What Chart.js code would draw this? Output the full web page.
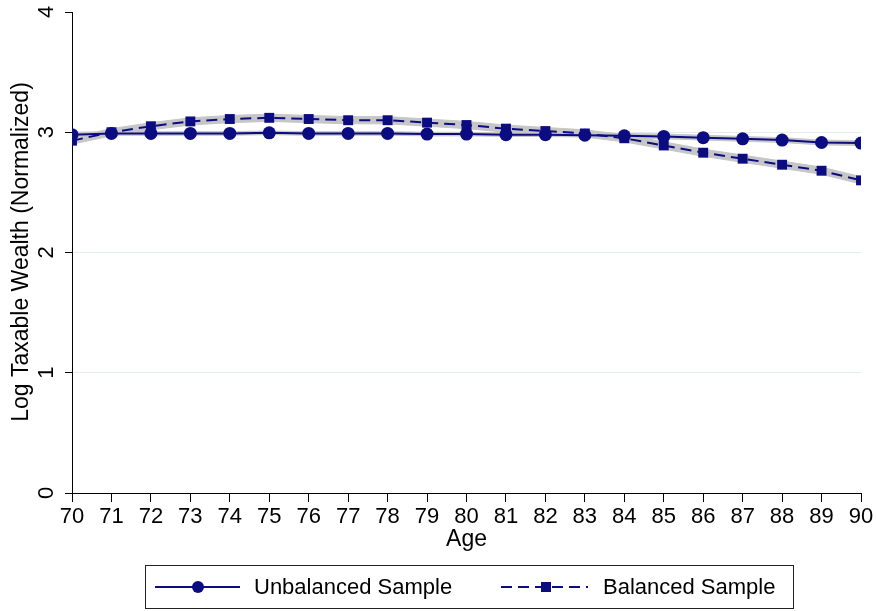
<!DOCTYPE html>
<html>
<head>
<meta charset="utf-8">
<script src="https://cdn.jsdelivr.net/npm/chart.js@4.4.0/dist/chart.umd.min.js"></script>
<style>
html, body { margin: 0; padding: 0; background: #fff; }
#wrap { width: 876px; height: 611px; position: relative; }
</style>
</head>
<body>
<div id="wrap"><canvas id="wealth_chart"></canvas></div>
<script>
var ages = [70, 71, 72, 73, 74, 75, 76, 77, 78, 79, 80, 81, 82, 83, 84, 85, 86, 87, 88, 89, 90];
var unbalanced   = [2.98, 2.99, 2.99, 2.99, 2.99, 2.995, 2.99, 2.99, 2.99, 2.985, 2.985, 2.98, 2.98, 2.975, 2.97, 2.965, 2.955, 2.945, 2.935, 2.915, 2.91];
var unbalancedHi = [3.00, 3.005, 3.005, 3.005, 3.005, 3.01, 3.005, 3.005, 3.005, 3.00, 3.00, 2.995, 2.995, 2.99, 2.99, 2.985, 2.975, 2.965, 2.955, 2.935, 2.93];
var unbalancedLo = [2.96, 2.975, 2.975, 2.975, 2.975, 2.98, 2.975, 2.975, 2.975, 2.97, 2.97, 2.965, 2.965, 2.96, 2.95, 2.945, 2.935, 2.925, 2.915, 2.895, 2.89];
var balanced   = [2.93, 3.00, 3.05, 3.09, 3.11, 3.12, 3.11, 3.10, 3.10, 3.08, 3.06, 3.03, 3.01, 2.99, 2.95, 2.89, 2.83, 2.78, 2.73, 2.68, 2.60];
var balancedHi = [2.96, 3.03, 3.08, 3.12, 3.14, 3.15, 3.14, 3.13, 3.13, 3.11, 3.09, 3.06, 3.04, 3.02, 2.98, 2.92, 2.86, 2.81, 2.76, 2.71, 2.63];
var balancedLo = [2.90, 2.97, 3.02, 3.06, 3.08, 3.09, 3.08, 3.07, 3.07, 3.05, 3.03, 3.00, 2.98, 2.96, 2.92, 2.86, 2.80, 2.75, 2.70, 2.65, 2.57];
var yTicks = [0, 1, 2, 3, 4];
var seriesNames = ["Unbalanced Sample", "Balanced Sample"];
var yTitle = "Log Taxable Wealth (Normalized)";

var navy = "#0c0c82";
var band = "#c6c6c6";
var FONT = "'Liberation Sans', Arial, Helvetica, sans-serif";

function pts(vals) {
  return ages.map(function (a, i) { return { x: a, y: vals[i] }; });
}

// stata style: y labels and y title turned on their side
var yLabels = {
  id: 'yLabels',
  afterDraw: function (chart) {
    var ctx = chart.ctx, sc = chart.scales.y;
    ctx.save();
    ctx.fillStyle = "#000";
    ctx.textAlign = "center";
    ctx.textBaseline = "middle";
    ctx.font = "22px " + FONT;
    yTicks.forEach(function (t) {
      ctx.save();
      ctx.translate(47, sc.getPixelForValue(t));
      ctx.rotate(-Math.PI / 2);
      ctx.fillText(String(t), 0, 0);
      ctx.restore();
    });
    ctx.font = "23px " + FONT;
    ctx.translate(22, 252);
    ctx.rotate(-Math.PI / 2);
    ctx.fillText(yTitle, 0, 0);
    ctx.restore();
  }
};

var legendBox = {
  id: 'legendBox',
  afterDraw: function (chart) {
    var ctx = chart.ctx;
    var cy = 587;
    ctx.save();
    ctx.strokeStyle = "#222";
    ctx.lineWidth = 1;
    ctx.strokeRect(145.5, 565.5, 648, 43);

    ctx.strokeStyle = navy;
    ctx.fillStyle = navy;
    ctx.lineWidth = 2;
    ctx.beginPath(); ctx.moveTo(155, cy); ctx.lineTo(240, cy); ctx.stroke();
    ctx.beginPath(); ctx.arc(198, cy, 6, 0, 2 * Math.PI); ctx.fill();

    ctx.setLineDash([11, 6]);
    ctx.beginPath(); ctx.moveTo(501, cy); ctx.lineTo(588, cy); ctx.stroke();
    ctx.setLineDash([]);
    ctx.fillRect(541, cy - 5, 10, 10);

    ctx.fillStyle = "#000";
    ctx.font = "22px " + FONT;
    ctx.textBaseline = "middle";
    ctx.textAlign = "left";
    ctx.fillText(seriesNames[0], 254, cy + 1);
    ctx.fillText(seriesNames[1], 603, cy + 1);
    ctx.restore();
  }
};

function create_Chart() {
  new Chart(document.getElementById("wealth_chart"), {
    type: 'line',
    data: {
      datasets: [
        { label: 'ub_hi', data: pts(unbalancedHi), borderColor: band, borderWidth: 1, pointRadius: 0, backgroundColor: band, fill: '+1', order: 3 },
        { label: 'ub_lo', data: pts(unbalancedLo), borderColor: band, borderWidth: 1, pointRadius: 0, fill: false, order: 3 },
        { label: 'b_hi', data: pts(balancedHi), borderColor: band, borderWidth: 1, pointRadius: 0, backgroundColor: band, fill: '+1', order: 3 },
        { label: 'b_lo', data: pts(balancedLo), borderColor: band, borderWidth: 1, pointRadius: 0, fill: false, order: 3 },
        {
          label: seriesNames[0], data: pts(unbalanced), borderColor: navy, borderWidth: 2,
          pointStyle: 'circle', pointRadius: 6.5, pointBackgroundColor: navy, pointBorderWidth: 0,
          fill: false, order: 1
        },
        {
          label: seriesNames[1], data: pts(balanced), borderColor: navy, borderWidth: 2, borderDash: [11, 6],
          pointStyle: 'rect', pointRadius: 7, pointBackgroundColor: navy, pointBorderWidth: 0,
          fill: false, order: 1
        }
      ]
    },
    options: {
      responsive: true,
      maintainAspectRatio: false,
      animation: false,
      layout: { padding: { left: 0, right: 15, top: 12, bottom: 58 } },
      plugins: { legend: { display: false }, tooltip: { enabled: false } },
      scales: {
        x: {
          type: 'linear', min: 70, max: 90,
          ticks: { stepSize: 1, autoSkip: false, maxRotation: 0, color: '#000', padding: 2, font: { size: 22, family: FONT } },
          grid: { drawOnChartArea: false, tickLength: 9, tickColor: '#000' },
          border: { color: '#000', width: 1 },
          title: { display: true, text: 'Age', color: '#000', font: { size: 23, family: FONT }, padding: 0 },
          afterFit: function (s) { s.height = 60; }
        },
        y: {
          min: 0, max: 4,
          ticks: { stepSize: 1, display: false },
          grid: {
            tickLength: 7, tickColor: '#000',
            color: function (c) { return (c.tick && c.tick.value > 0 && c.tick.value < 4) ? '#e4ecee' : 'rgba(0,0,0,0)'; }
          },
          border: { color: '#000', width: 1 },
          title: { display: false },
          afterFit: function (s) { s.width = 72; }
        }
      }
    },
    plugins: [yLabels, legendBox]
  });
}

document.addEventListener('DOMContentLoaded', create_Chart);
</script>
</body>
</html>
